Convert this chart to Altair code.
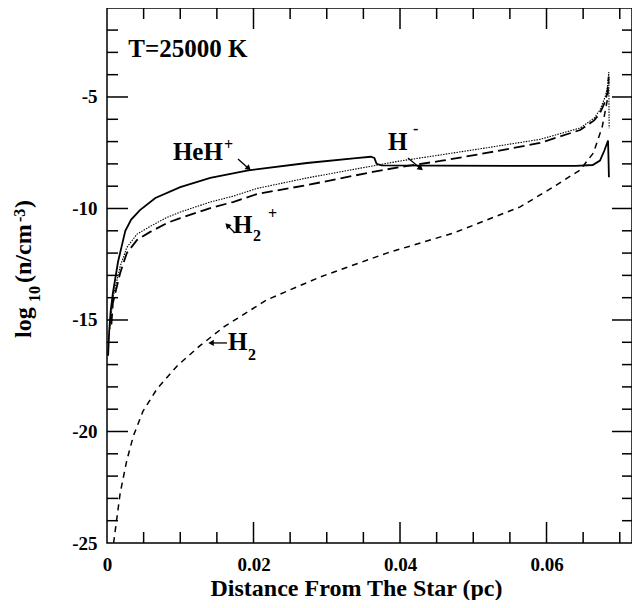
import altair as alt
import pandas as pd

SERIF = "Liberation Serif"

# ---------------- data ----------------
heh_x = [0.00015, 0.0003, 0.0005, 0.0008, 0.0011, 0.0015, 0.0020, 0.0025, 0.0033, 0.0045,
         0.0066, 0.0100, 0.0141, 0.0191, 0.0273, 0.0340, 0.0360, 0.0365, 0.0368, 0.0375,
         0.0450, 0.0550, 0.0640, 0.0663, 0.0673, 0.0679, 0.0684, 0.06845, 0.06852]
heh_y = [-16.6, -15.5, -14.6, -13.8, -13.2, -12.4, -11.7, -11.0, -10.5, -10.07,
         -9.53, -9.04, -8.63, -8.30, -7.96, -7.74, -7.68, -7.73, -8.0, -8.07,
         -8.08, -8.09, -8.09, -8.05, -7.85, -7.4, -6.95, -7.6, -8.6]

hm_x = [0.0004, 0.0008, 0.0018, 0.0027, 0.0041, 0.0059, 0.0082, 0.0100, 0.0141, 0.0172,
        0.0205, 0.0273, 0.0363, 0.0400, 0.0455, 0.0520, 0.0591, 0.0646, 0.0665, 0.0673,
        0.0680, 0.0683, 0.0685, 0.06855]
hm_y = [-15.4, -14.0, -12.6, -11.75, -11.15, -10.8, -10.4, -10.16, -9.71, -9.45,
        -9.1, -8.63, -8.09, -7.87, -7.6, -7.27, -6.9, -6.39, -5.95, -5.58,
        -5.0, -4.6, -3.88, -6.4]

h2p_x = [0.0006, 0.0008, 0.0018, 0.0027, 0.0041, 0.0059, 0.0082, 0.0100, 0.0141, 0.0172,
         0.0205, 0.0273, 0.0363, 0.0400, 0.0455, 0.0520, 0.0591, 0.0646, 0.0665, 0.0673,
         0.0680, 0.0683, 0.0685]
h2p_y = [-15.2, -14.24, -12.89, -12.0, -11.41, -11.05, -10.65, -10.43, -9.98, -9.71,
         -9.35, -8.95, -8.36, -8.14, -7.87, -7.5, -7.06, -6.48, -6.05, -5.72,
         -5.2, -4.82, -4.1]

h2_x = [0.0009, 0.0018, 0.0027, 0.0036, 0.0049, 0.0068, 0.0096, 0.0127, 0.0160, 0.0218,
        0.0291, 0.0382, 0.0473, 0.0564, 0.0609, 0.0646, 0.0664, 0.0676, 0.0683, 0.0685]
h2_y = [-25.0, -22.76, -21.3, -20.2, -19.1, -18.1, -17.05, -16.15, -15.3, -14.1,
        -13.07, -12.0, -11.1, -9.93, -9.04, -8.27, -7.51, -6.35, -5.13, -4.3]

# axis tick values
x_label_vals = [0, 0.02, 0.04, 0.06]
y_label_vals = [-25, -20, -15, -10, -5]
x_major = [0.02, 0.04, 0.06]
x_minor = [0.005, 0.01, 0.015, 0.025, 0.03, 0.035, 0.045, 0.05, 0.055, 0.065, 0.07]
y_major = [-20, -15, -10, -5]
y_minor = [v for v in range(-24, -1) if v % 5 != 0]

# annotations: (text, x, y, size, align, baseline)
annotations = [
    ("T=25000 K", 0.0029, -3.2, 25, "left", "alphabetic"),
    ("HeH", 0.0090, -7.83, 25, "left", "alphabetic"),
    ("+", 0.01597, -7.38, 16, "left", "alphabetic"),
    ("H", 0.03836, -7.38, 25, "left", "alphabetic"),
    ("-", 0.04177, -6.66, 16, "left", "alphabetic"),
    ("H", 0.0172, -11.1, 25, "left", "alphabetic"),
    ("2", 0.01993, -11.46, 16, "left", "alphabetic"),
    ("+", 0.02198, -10.47, 16, "left", "alphabetic"),
    ("H", 0.01652, -16.35, 25, "left", "alphabetic"),
    ("2", 0.01925, -16.79, 16, "left", "alphabetic"),
]

# label arrows: (tail x, tail y, tip x, tip y, head angle)
arrows = [
    (0.01788, -7.78, 0.01925, -8.18, 132),
    (0.04109, -7.74, 0.04273, -8.18, 130),
    (0.01747, -11.10, 0.01652, -10.78, 315),
    (0.01638, -16.03, 0.01433, -16.03, 270),
]

# ---------------- chart ----------------
W, H = 525, 535
xscale = alt.Scale(domain=[0, 0.07167], nice=False, zero=False)
yscale = alt.Scale(domain=[-25, -1.01], nice=False, zero=False)

xaxis = alt.Axis(values=x_label_vals,
                 labelExpr="datum.value == 0 ? '0' : format(datum.value, '.2f')",
                 ticks=False, tickSize=0, domain=False, grid=False,
                 labelFont=SERIF, labelFontWeight="bold", labelFontSize=19, labelColor="black",
                 labelPadding=27, labelBaseline="alphabetic", labelFlush=False, labelOverlap=False,
                 title="Distance From The Star (pc)", titleFont=SERIF, titleFontWeight="bold",
                 titleFontSize=24, titleColor="black", titleX=249, titleY=52,
                 titleBaseline="alphabetic", titleAlign="center")
yaxis = alt.Axis(values=y_label_vals, labelExpr="'' + datum.value",
                 ticks=False, tickSize=0, domain=False, grid=False,
                 labelFont=SERIF, labelFontWeight="bold", labelFontSize=19, labelColor="black",
                 labelPadding=10, labelFlush=False, labelOverlap=False, title=None)

X = alt.X("x:Q", scale=xscale, axis=xaxis)
Y = alt.Y("y:Q", scale=yscale, axis=yaxis)


def line(xs, ys, **kw):
    df = pd.DataFrame({"x": xs, "y": ys, "i": list(range(len(xs)))})
    return alt.Chart(df).mark_line(color="black", **kw).encode(x=X, y=Y, order="i:Q")


def ticks_x(vals, y0, y1):
    df = pd.DataFrame({"x": vals})
    return alt.Chart(df).mark_rule(color="black", strokeWidth=1.5).encode(
        x=X, y=alt.value(y0), y2=alt.value(y1))


def ticks_y(vals, x0, x1):
    df = pd.DataFrame({"y": vals})
    return alt.Chart(df).mark_rule(color="black", strokeWidth=1.5).encode(
        y=Y, x=alt.value(x0), x2=alt.value(x1))


layers = [
    line(heh_x, heh_y, strokeWidth=1.8),
    line(hm_x, hm_y, strokeWidth=1.1, strokeDash=[1.5, 1.2]),
    line(h2p_x, h2p_y, strokeWidth=1.8, strokeDash=[11, 5]),
    line(h2_x, h2_y, strokeWidth=1.5, strokeDash=[6, 5]),
    ticks_x(x_major, H, H - 21), ticks_x(x_minor, H, H - 11),
    ticks_x(x_major, 0, 21), ticks_x(x_minor, 0, 11),
    ticks_y(y_major, 0, 21), ticks_y(y_minor, 0, 11),
    ticks_y(y_major, W, W - 20), ticks_y(y_minor, W, W - 10),
]

for text, ax, ay, size, align, base in annotations:
    df = pd.DataFrame({"x": [ax], "y": [ay]})
    layers.append(alt.Chart(df).mark_text(
        text=text, font=SERIF, fontWeight="bold", fontSize=size, align=align,
        baseline=base, color="black").encode(x=X, y=Y))

arrow_df = pd.DataFrame(arrows, columns=["x", "y", "x2", "y2", "ang"])
layers.append(alt.Chart(arrow_df).mark_rule(color="black", strokeWidth=1.3).encode(
    x=X, y=Y, x2="x2:Q", y2="y2:Q"))
layers.append(alt.Chart(arrow_df).mark_point(
    shape="triangle", filled=True, color="black", size=40, opacity=1).encode(
    x=alt.X("x2:Q", scale=xscale, axis=xaxis), y=alt.Y("y2:Q", scale=yscale, axis=yaxis),
    angle=alt.Angle("ang:Q", scale=None)))

# y-axis title built from pieces (sub/superscripts), positions in plot pixels
ytitle_parts = [("log", -76, 330, 24), ("10", -67, 294, 16), ("(n/cm", -76, 275, 24),
                ("-3", -82, 214, 16), (")", -76, 200, 24)]
one = pd.DataFrame({"a": [0]})
for text, px, py, size in ytitle_parts:
    layers.append(alt.Chart(one).mark_text(
        text=text, font=SERIF, fontWeight="bold", fontSize=size, angle=270,
        align="left", baseline="alphabetic", color="black").encode(
        x=alt.value(px), y=alt.value(py)))

chart = alt.layer(*layers).properties(
    width=W, height=H,
    autosize=alt.AutoSizeParams(type="none"),
    padding={"left": 99, "top": 0, "right": 0, "bottom": 57},
).configure_view(stroke="black", strokeWidth=1.5)

chart.save("out.html", embed_options={"renderer": "svg", "actions": False})
